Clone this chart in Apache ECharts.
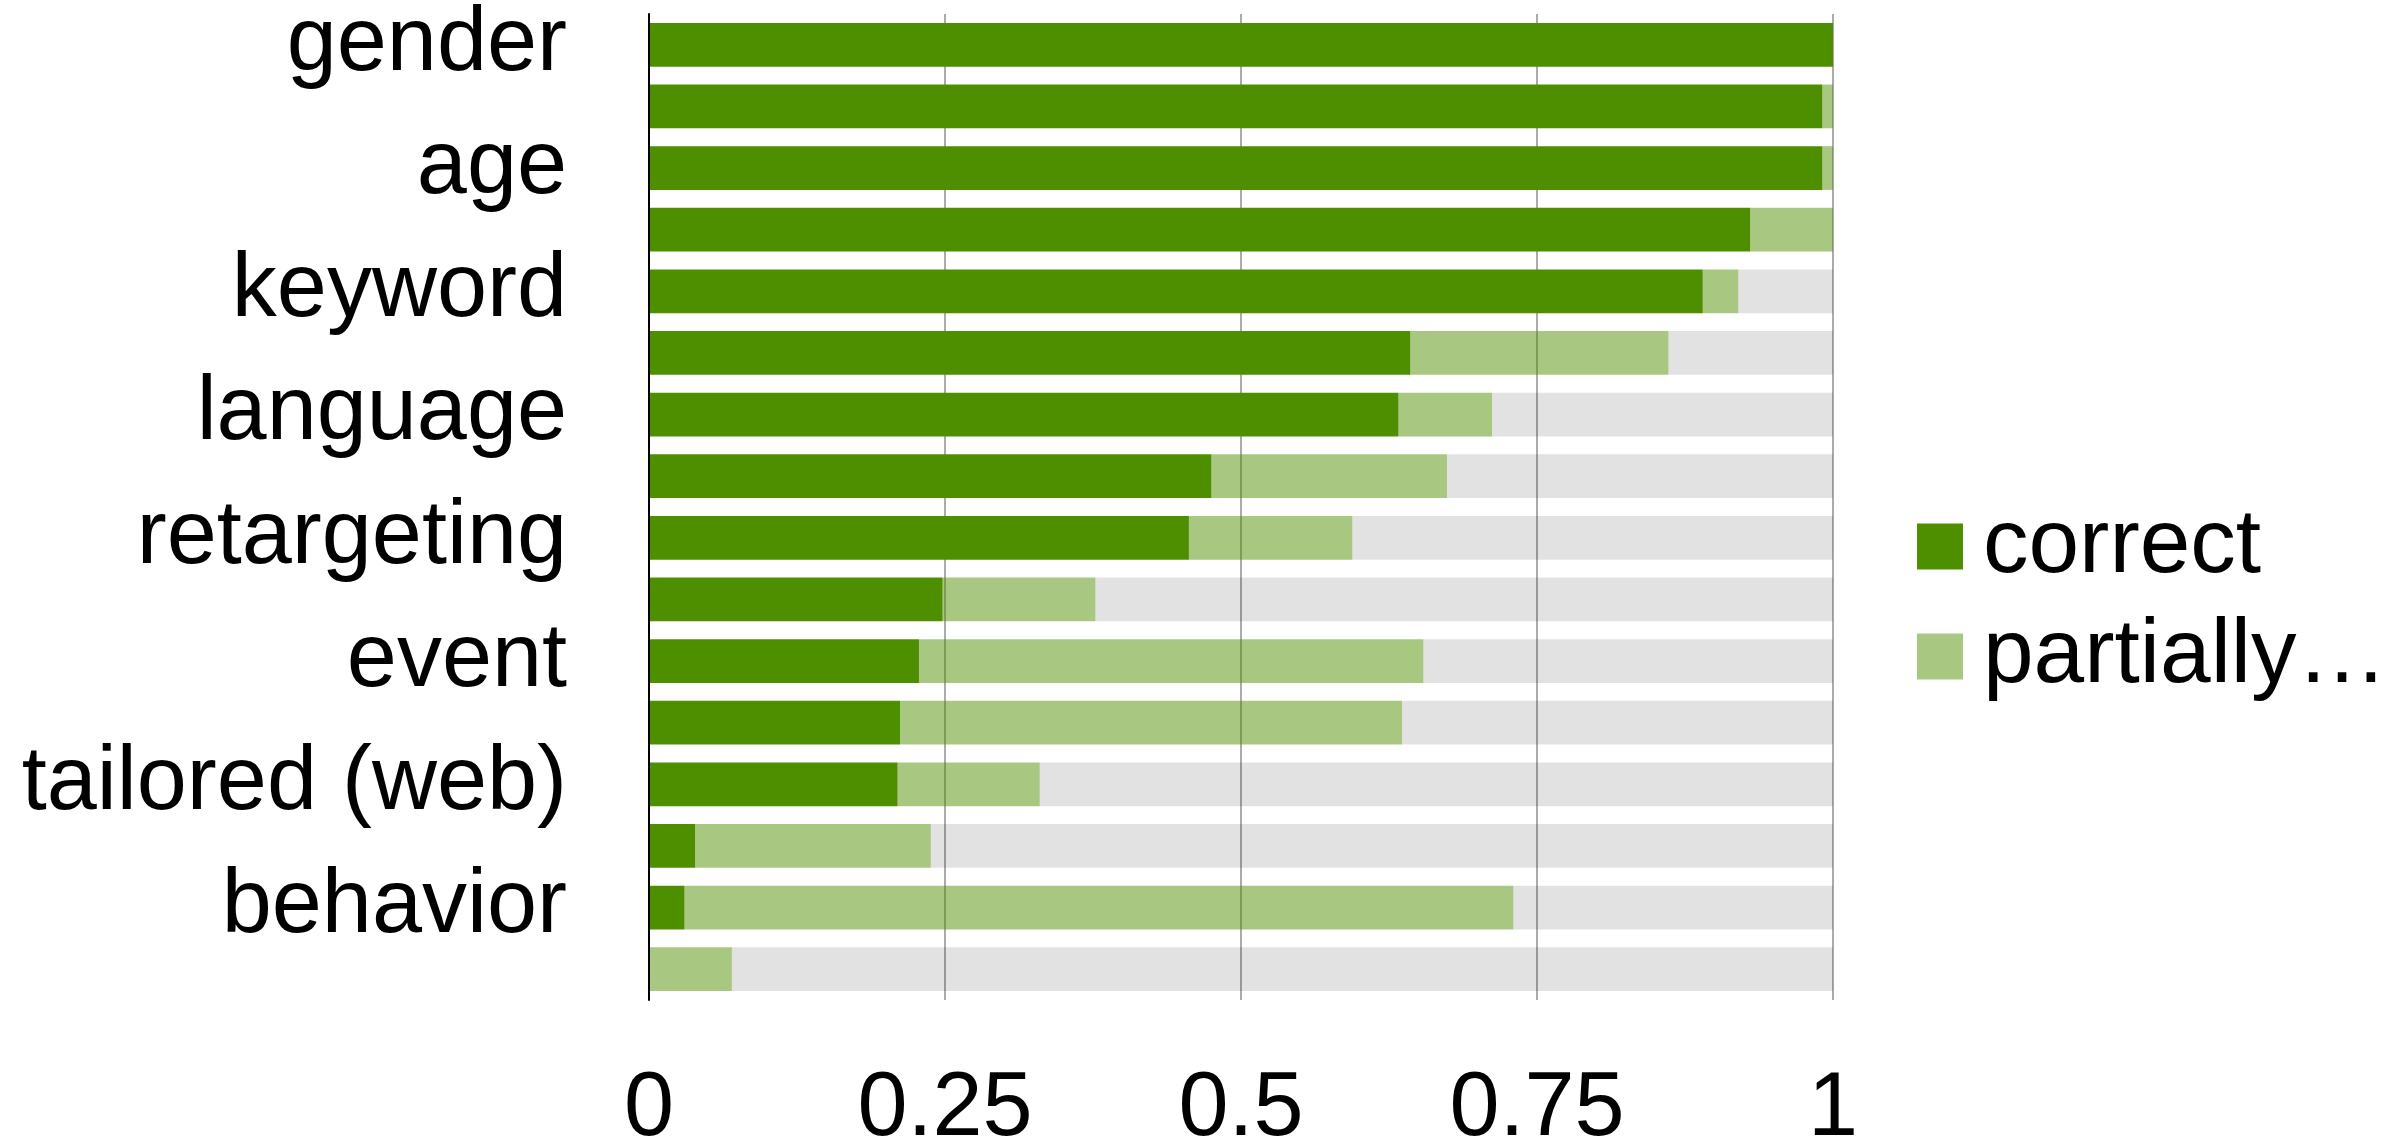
<!DOCTYPE html>
<html>
<head>
<meta charset="utf-8">
<script src="https://cdn.jsdelivr.net/npm/echarts@6/dist/echarts.min.js"></script>
<style>
  html, body { margin: 0; padding: 0; background: #fff; }
  #main { width: 2405px; height: 1142px; }
</style>
</head>
<body>
<div id="main"></div>
<script>
// rows top to bottom; only every other row carries a label
var categories = ['gender', '', 'age', '', 'keyword', '', 'language', '',
                  'retargeting', '', 'event', '', 'tailored (web)', '', 'behavior', ''];
var correct = [1.0, 0.991, 0.991, 0.93, 0.89, 0.643, 0.633, 0.475,
               0.456, 0.248, 0.228, 0.212, 0.21, 0.039, 0.03, 0];
var partially = [0, 0.009, 0.009, 0.07, 0.03, 0.218, 0.079, 0.199,
                 0.138, 0.129, 0.426, 0.424, 0.12, 0.199, 0.70, 0.07];
// grey remainder of each row (no legend entry)
var other = [0, 0, 0, 0, 0.08, 0.139, 0.288, 0.326,
             0.406, 0.623, 0.346, 0.364, 0.67, 0.762, 0.27, 0.93];
var xTicks = [0, 0.25, 0.5, 0.75, 1];

var font = 'Liberation Sans, Arial, sans-serif';
var chart = echarts.init(document.getElementById('main'));

var option = {
    animation: false,
    color: ['#4e8f00', 'rgba(78,143,0,0.49)', 'rgba(0,0,0,0.115)'],
    grid: {
        left: 649,
        right: 572,
        top: 14,
        bottom: 142,
        outerBoundsMode: 'none'
    },
    legend: {
        data: ['correct', 'partially…'],
        orient: 'vertical',
        left: 1912,
        top: 496,
        itemWidth: 46,
        itemHeight: 46,
        itemGap: 19,
        icon: 'rect',
        itemStyle: { opacity: 1 },
        textStyle: {
            fontFamily: font,
            fontSize: 91,
            lineHeight: 90,
            color: '#000',
            padding: [0, 0, 0, 15]
        }
    },
    xAxis: {
        type: 'value',
        min: 0,
        max: 1,
        interval: 0.25,
        axisLine: { show: false },
        axisTick: { show: false },
        axisLabel: {
            margin: 65,
            fontFamily: font,
            fontSize: 90,
            color: '#000',
            formatter: function (v) {
                return xTicks.indexOf(v) >= 0 ? String(v) : '';
            }
        },
        splitLine: {
            lineStyle: { color: '#ababab', width: 2 }
        }
    },
    yAxis: {
        type: 'category',
        inverse: true,
        data: categories,
        z: 3,
        axisLine: { lineStyle: { color: '#000', width: 2 } },
        axisTick: { show: false },
        axisLabel: {
            interval: 0,
            margin: 82,
            fontFamily: font,
            fontSize: 90,
            color: '#000'
        }
    },
    series: [
        {
            name: 'correct',
            type: 'bar',
            stack: 'all',
            barCategoryGap: '29%',
            data: correct
        },
        {
            name: 'partially…',
            type: 'bar',
            stack: 'all',
            barCategoryGap: '29%',
            data: partially
        },
        {
            name: 'other',
            type: 'bar',
            stack: 'all',
            barCategoryGap: '29%',
            data: other
        }
    ]
};
chart.setOption(option);
</script>
</body>
</html>
